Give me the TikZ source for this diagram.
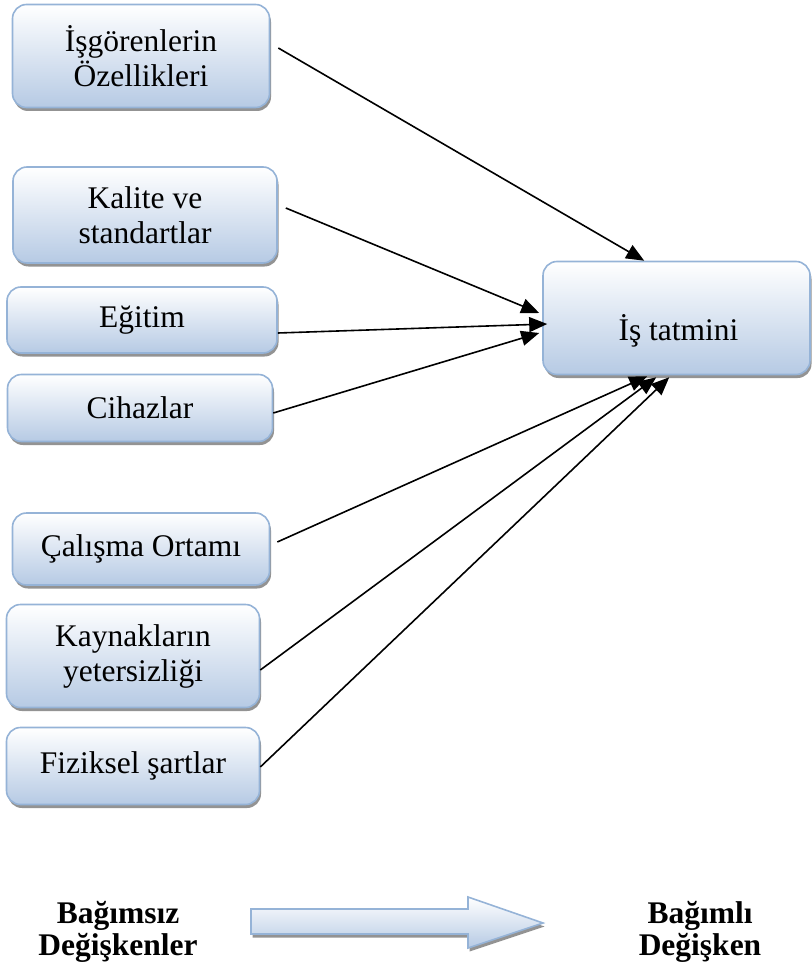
\documentclass[tikz,border=0pt]{standalone}
\usepackage{fontspec}
\setmainfont{Liberation Serif}
\usetikzlibrary{arrows.meta,shadows}
\definecolor{boxline}{RGB}{149,179,215}
\definecolor{boxfill}{RGB}{182,202,228}
\tikzset{
  factor/.style={draw=boxline, line width=1.6pt, rounded corners=14pt, top color=white, bottom color=boxfill,
    align=center, font=\fontsize{31.5}{35}\selectfont,
    drop shadow={shadow xshift=1.5pt, shadow yshift=-3.5pt, fill=gray!85, opacity=1}},
  link/.style={line width=1.6pt, -{Triangle[length=18pt,width=15pt]}},
  varlabel/.style={align=center, font=\bfseries\fontsize{31.5}{32}\selectfont}
}
\begin{document}
\begin{tikzpicture}[x=1pt,y=-1pt]
            \useasboundingbox (0,0) rectangle (811,968);

            \node[factor, minimum width=257pt, minimum height=103pt] (isgoren) at (141,56) {İşgörenlerin\\Özellikleri}; % left column of factors
            \node[factor, minimum width=264pt, minimum height=96pt] (kalite) at (145,215) {Kalite ve\\standartlar};
            \node[factor, minimum width=270pt, minimum height=66pt] (egitim) at (142,320) {Eğitim};
            \node[factor, minimum width=265pt, minimum height=67pt] (cihaz) at (140,408) {Cihazlar};
            \node[factor, minimum width=257pt, minimum height=72pt] (ortam) at (141,549) {Çalışma Ortamı};
            \node[factor, minimum width=253pt, minimum height=103pt] (kaynak) at (133,656) {Kaynakların\\yetersizliği};
            \node[factor, minimum width=253pt, minimum height=77pt] (fiziksel) at (133,766) {Fiziksel şartlar};

            \node[factor, minimum width=267pt, minimum height=113pt,
                  label={[yshift=-13pt, xshift=2pt, font=\fontsize{31.5}{35}\selectfont]center:İş tatmini}] (tatmin) at (676.5,318) {}; % the result box

            \draw[link] ([xshift=8pt,yshift=8pt]isgoren.east) -- ([xshift=102pt]tatmin.north west);
            \draw[link] ([xshift=8pt,yshift=7pt]kalite.east) -- ([xshift=-3pt,yshift=5pt]tatmin.west);
            \draw[link] ([yshift=-13pt]egitim.east) -- ([xshift=5pt,yshift=-6pt]tatmin.west);
            \draw[link] ([yshift=-5pt]cihaz.east) -- ([xshift=-3pt,yshift=-15pt]tatmin.west);
            \draw[link] ([xshift=7pt,yshift=7pt]ortam.east) -- ([xshift=105pt,yshift=-1pt]tatmin.south west);
            \draw[link] ([yshift=-14pt]kaynak.east) -- ([xshift=114pt,yshift=-2pt]tatmin.south west);
            \draw[link] ([yshift=-1pt]fiziksel.east) -- ([xshift=127pt,yshift=-2pt]tatmin.south west); % all arrows meet the result box

            \draw[draw=boxline, line width=1.6pt, top color=white, bottom color=boxfill,
                  drop shadow={shadow xshift=1.5pt, shadow yshift=-3.5pt, fill=gray!85, opacity=1}]
                  (251,909) -- (468,909) -- (468,897) -- (543,923) -- (468,948) -- (468,934) -- (251,934) -- cycle; % the wide arrow at the bottom
            \node[varlabel] (bagimsiz) at (118,932) {Bağımsız\\Değişkenler};
            \node[varlabel] (bagimli) at (700,932) {Bağımlı\\Değişken};
      \end{tikzpicture}
\end{document}
